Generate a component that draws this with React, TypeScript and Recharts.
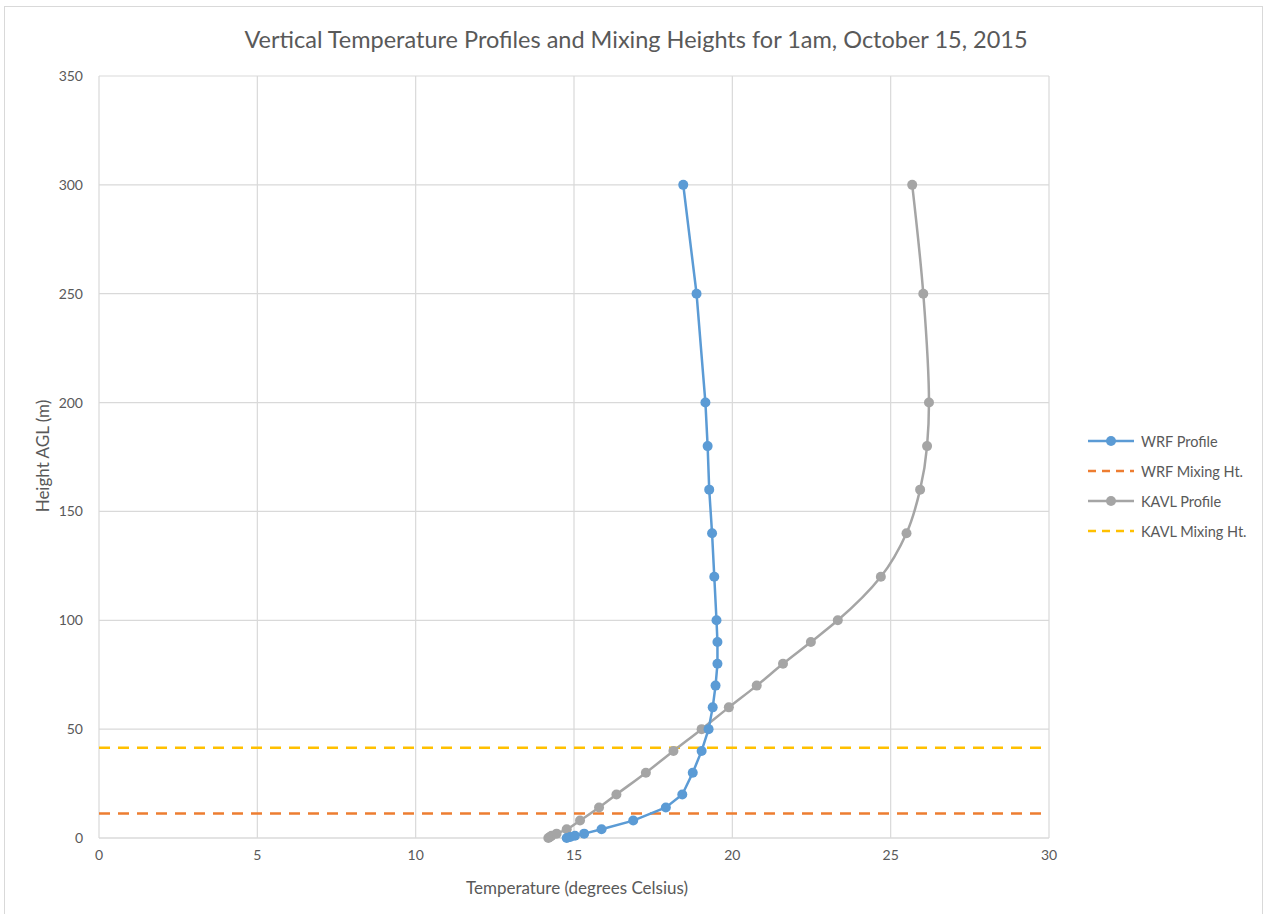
import React from 'react'
import { LineChart, Line, XAxis, YAxis, CartesianGrid } from 'recharts'

// heights above ground (m) shared by both profiles
const heights = [0, 0.5, 1, 2, 4, 8, 14, 20, 30, 40, 50, 60, 70, 80, 90, 100, 120, 140, 160, 180, 200, 250, 300]
const wrfTemps = [14.77, 14.88, 15.03, 15.32, 15.87, 16.87, 17.9, 18.42, 18.75, 19.03, 19.25, 19.38, 19.47, 19.53, 19.53, 19.5, 19.43, 19.36, 19.27, 19.22, 19.15, 18.87, 18.45]
const kavlTemps = [14.19, 14.24, 14.29, 14.45, 14.77, 15.19, 15.79, 16.34, 17.27, 18.14, 19.03, 19.89, 20.77, 21.6, 22.48, 23.33, 24.69, 25.5, 25.93, 26.15, 26.21, 26.03, 25.68]
const wrfMixingHeight = 11.3
const kavlMixingHeight = 41.5
const xTicks = [0, 5, 10, 15, 20, 25, 30]
const yTicks = [0, 50, 100, 150, 200, 250, 300, 350]

const FONT = 'Lato, "Open Sans", sans-serif'
const TEXT = '#595959'

const BLUE = '#5B9BD5'
const ORANGE = '#ED7D31'
const GRAY = '#A5A5A5'
const YELLOW = '#FFC000'

const profile = (temps: number[]) => heights.map((h, i) => ({ temp: temps[i], height: h }))
const flat = (h: number) => [
  { temp: xTicks[0], height: h },
  { temp: xTicks[xTicks.length - 1], height: h },
]

const wrfData = profile(wrfTemps)
const kavlData = profile(kavlTemps)

const legendItems = [
  { name: 'WRF Profile', color: BLUE, dashed: false },
  { name: 'WRF Mixing Ht.', color: ORANGE, dashed: true },
  { name: 'KAVL Profile', color: GRAY, dashed: false },
  { name: 'KAVL Mixing Ht.', color: YELLOW, dashed: true },
]

const tickStyle = { fill: TEXT, fontSize: 14, fontFamily: FONT }

export default function App() {
  return (
    <div style={{ position: 'absolute', left: 0, top: 0, width: 1265, height: 914, background: '#fff', fontFamily: FONT, overflow: 'hidden' }}>
      <div style={{ position: 'absolute', left: 4, top: 6, width: 1257, height: 920, border: '1px solid #d9d9d9' }} />
      <div style={{ position: 'absolute', left: 0, width: 1272, top: 25, textAlign: 'center', fontSize: 23.5, color: TEXT }}>
        Vertical Temperature Profiles and Mixing Heights for 1am, October 15, 2015
      </div>

      <LineChart width={1265} height={914} margin={{ top: 76, right: 216, bottom: 46, left: 39 }}>
        <CartesianGrid stroke="#d9d9d9" strokeWidth={1.2} />
        <XAxis
          type="number"
          dataKey="temp"
          domain={[0, 30]}
          ticks={xTicks}
          height={30}
          tick={tickStyle}
          tickLine={false}
          tickSize={6}
          tickMargin={6}
          axisLine={{ stroke: '#d9d9d9', strokeWidth: 1.2 }}
          allowDuplicatedCategory={false}
        />
        <YAxis
          type="number"
          domain={[0, 350]}
          ticks={yTicks}
          width={60}
          tick={tickStyle}
          tickLine={false}
          tickSize={6}
          tickMargin={10}
          axisLine={false}
        />
        <Line data={flat(wrfMixingHeight)} dataKey="height" name="WRF Mixing Ht." stroke={ORANGE} strokeWidth={2.5} strokeDasharray="11 8" dot={false} isAnimationActive={false} />
        <Line data={flat(kavlMixingHeight)} dataKey="height" name="KAVL Mixing Ht." stroke={YELLOW} strokeWidth={2.5} strokeDasharray="11 8" dot={false} isAnimationActive={false} />
        <Line data={kavlData} dataKey="height" name="KAVL Profile" type="monotoneY" stroke={GRAY} strokeWidth={2.5} dot={{ r: 5, fill: GRAY, stroke: GRAY, strokeWidth: 0 }} isAnimationActive={false} />
        <Line data={wrfData} dataKey="height" name="WRF Profile" stroke={BLUE} strokeWidth={2.5} dot={{ r: 5, fill: BLUE, stroke: BLUE, strokeWidth: 0 }} isAnimationActive={false} />
      </LineChart>

      <div style={{ position: 'absolute', left: 427, width: 300, top: 877, textAlign: 'center', fontSize: 17, color: TEXT }}>
        Temperature (degrees Celsius)
      </div>
      <div style={{ position: 'absolute', left: 42, top: 456, width: 0, height: 0 }}>
        <div style={{ position: 'absolute', transform: 'translate(-50%, -50%) rotate(-90deg)', whiteSpace: 'nowrap', fontSize: 17, color: TEXT }}>
          Height AGL (m)
        </div>
      </div>

      <div style={{ position: 'absolute', left: 1087, top: 426 }}>
        {legendItems.map(item => (
          <div key={item.name} style={{ display: 'flex', alignItems: 'center', height: 30, fontSize: 14.5, color: TEXT }}>
            <svg width={48} height={14} style={{ marginRight: 6 }}>
              <line x1={1} y1={7} x2={47} y2={7} stroke={item.color} strokeWidth={2.5} strokeDasharray={item.dashed ? '8 6' : undefined} />
              {!item.dashed && <circle cx={24} cy={7} r={5} fill={item.color} />}
            </svg>
            {item.name}
          </div>
        ))}
      </div>
    </div>
  )
}
